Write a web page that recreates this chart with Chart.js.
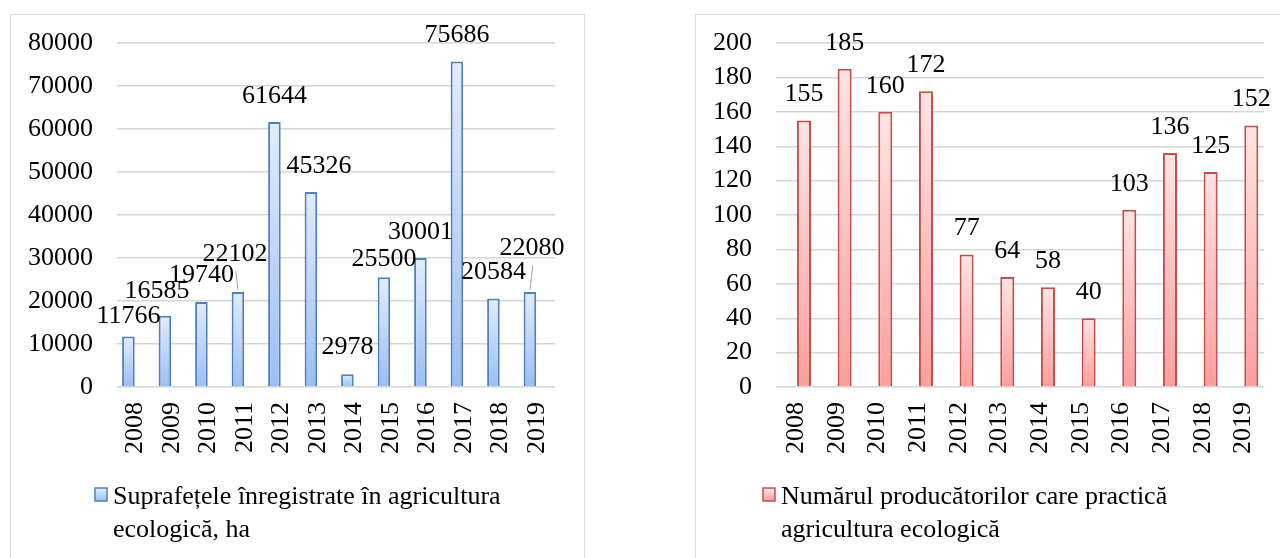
<!DOCTYPE html>
<html>
<head>
<meta charset="utf-8">
<script src="https://cdn.jsdelivr.net/npm/chart.js@4.4.0/dist/chart.umd.min.js"></script>
<style>
body { margin: 0; background: #fff; width: 1280px; height: 558px; overflow: hidden; position: relative; }
.box { position: absolute; top: 14px; height: 560px; border: 1px solid #d9d9d9; box-sizing: border-box; }
#leftBox { left: 10px; width: 575px; }
#rightBox { left: 695px; width: 598px; }
canvas { display: block; }
</style>
</head>
<body>
<div class="box" id="leftBox"><canvas id="surfaceChart" width="573" height="558"></canvas></div>
<div class="box" id="rightBox"><canvas id="producerChart" width="596" height="558"></canvas></div>
<script>
const years = ['2008', '2009', '2010', '2011', '2012', '2013', '2014', '2015', '2016', '2017', '2018', '2019'];
const surfaceHa = [11766, 16585, 19740, 22102, 61644, 45326, 2978, 25500, 30001, 75686, 20584, 22080];
const producers = [155, 185, 160, 172, 77, 64, 58, 40, 103, 136, 125, 152];
const surfaceTicks = [0, 10000, 20000, 30000, 40000, 50000, 60000, 70000, 80000];
const producerTicks = [0, 20, 40, 60, 80, 100, 120, 140, 160, 180, 200];
const surfaceLegend = ['Suprafețele înregistrate în agricultura', 'ecologică, ha'];
const producerLegend = ['Numărul producătorilor care practică', 'agricultura ecologică'];

// label nudges (px) where Excel moved the data labels
const surfaceLabelShift = [[0, 6], [-8, 1], [0, -1], [-3, -12], [0, 0], [8, 0], [0, -1], [0, 8], [0, 0], [0, 0], [0, 0], [2, -18]];
const surfaceLeader = [false, false, false, true, false, false, false, false, false, false, false, true];

const FONT = '"Liberation Serif", "Times New Roman", serif';

function barGradient(topColor, bottomColor, solid) {
    return function (c) {
        if (c.type !== 'data' || !c.parsed) return solid;
        const chart = c.chart;
        const y = chart.scales.y;
        if (!y) return solid;
        const top = y.getPixelForValue(c.parsed.y);
        const bottom = y.getPixelForValue(0);
        if (!isFinite(top) || !isFinite(bottom) || top === bottom) return solid;
        const g = chart.ctx.createLinearGradient(0, top, 0, bottom);
        g.addColorStop(0, topColor);
        g.addColorStop(1, bottomColor);
        return g;
    };
}

const valueLabels = {
    id: 'valueLabels',
    afterDatasetsDraw(chart, args, opts) {
        const ctx = chart.ctx;
        const ds = opts.dataset;
        const values = chart.data.datasets[ds].data;
        const meta = chart.getDatasetMeta(ds);
        ctx.save();
        ctx.font = '26px ' + FONT;
        ctx.fillStyle = '#000';
        ctx.textAlign = 'center';
        ctx.textBaseline = 'middle';
        meta.data.forEach(function (bar, i) {
            const shift = (opts.shift && opts.shift[i]) || [0, 0];
            const x = bar.x + shift[0];
            const y = bar.y - 26 + shift[1];
            if (opts.leader && opts.leader[i]) {
                ctx.strokeStyle = '#a6a6a6';
                ctx.lineWidth = 1;
                ctx.beginPath();
                ctx.moveTo(bar.x, bar.y - 2);
                ctx.lineTo(x + 1, y + 17);
                ctx.stroke();
            }
            ctx.fillText(String(values[i]), x, y);
        });
        ctx.restore();
    }
};

const boxLegend = {
    id: 'boxLegend',
    afterDraw(chart, args, opts) {
        const ctx = chart.ctx;
        ctx.save();
        const g = ctx.createLinearGradient(0, opts.y, 0, opts.y + 13);
        g.addColorStop(0, opts.top);
        g.addColorStop(1, opts.bottom);
        ctx.fillStyle = g;
        ctx.fillRect(opts.x, opts.y, 12, 13);
        ctx.strokeStyle = opts.border;
        ctx.lineWidth = 1.5;
        ctx.strokeRect(opts.x, opts.y, 12, 13);
        ctx.font = '26px ' + FONT;
        ctx.fillStyle = '#000';
        ctx.textAlign = 'left';
        ctx.textBaseline = 'middle';
        opts.lines.forEach(function (line, i) {
            ctx.fillText(line, opts.textX, opts.lineY + i * 33);
        });
        ctx.restore();
    }
};

function makeChart(id, labels, values, tickValues, cfg) {
    const ctx = document.getElementById(id).getContext('2d');
    const main = {
        data: values,
        backgroundColor: barGradient(cfg.top, cfg.bottom, cfg.solid),
        borderColor: cfg.border,
        borderWidth: 2,
        borderSkipped: 'bottom'
    };
    // the Excel chart keeps an empty second series slot, so the bars sit off-centre
    const spacer = { data: [] };
    const datasets = cfg.spacerFirst ? [spacer, main] : [main, spacer];
    return new Chart(ctx, {
        type: 'bar',
        data: { labels: labels, datasets: datasets },
        options: {
            responsive: false,
            animation: false,
            datasets: { bar: { barPercentage: 0.92, categoryPercentage: 0.75 } },
            layout: { padding: { top: 28, right: cfg.padRight, bottom: 0, left: 0 } },
            plugins: {
                legend: { display: false },
                tooltip: { enabled: false },
                valueLabels: { dataset: cfg.spacerFirst ? 1 : 0, shift: cfg.shift, leader: cfg.leader },
                boxLegend: cfg.legend
            },
            scales: {
                x: {
                    grid: { display: false, drawTicks: false },
                    border: { display: false },
                    ticks: {
                        minRotation: 90, maxRotation: 90, padding: 15, autoSkip: false,
                        color: '#000', font: { family: FONT, size: 26 }
                    },
                    afterFit: function (s) { s.height = 186; s.paddingLeft = 0; s.paddingRight = 0; }
                },
                y: {
                    min: 0,
                    max: tickValues[tickValues.length - 1],
                    afterBuildTicks: function (s) { s.ticks = tickValues.map(function (v) { return { value: v }; }); },
                    grid: { color: '#d6d6d6', lineWidth: 1.4, drawTicks: false },
                    border: { display: false },
                    ticks: {
                        padding: 24, autoSkip: false, color: '#000', font: { family: FONT, size: 26 },
                        callback: function (v) { return String(v); }
                    },
                    afterFit: function (s) { s.width = cfg.yWidth; s.paddingTop = 0; s.paddingBottom = 0; }
                }
            }
        },
        plugins: [valueLabels, boxLegend]
    });
}

makeChart('surfaceChart', years, surfaceHa, surfaceTicks, {
    top: '#e2ecfc', bottom: '#9bbef3', solid: '#c6daf8', border: '#4f81bd',
    padRight: 29, yWidth: 106, spacerFirst: false,
    shift: surfaceLabelShift, leader: surfaceLeader,
    legend: { lines: surfaceLegend, x: 84, y: 473, textX: 102, lineY: 482,
              top: '#e2ecfc', bottom: '#9bbef3', border: '#4f81bd' }
});

makeChart('producerChart', years, producers, producerTicks, {
    top: '#ffe4e4', bottom: '#fc9e9d', solid: '#fdc4c3', border: '#c0504d',
    padRight: 28, yWidth: 80, spacerFirst: true,
    shift: null, leader: null,
    legend: { lines: producerLegend, x: 67, y: 473, textX: 85, lineY: 482,
              top: '#ffe4e4', bottom: '#fc9e9d', border: '#c0504d' }
});
</script>
</body>
</html>
